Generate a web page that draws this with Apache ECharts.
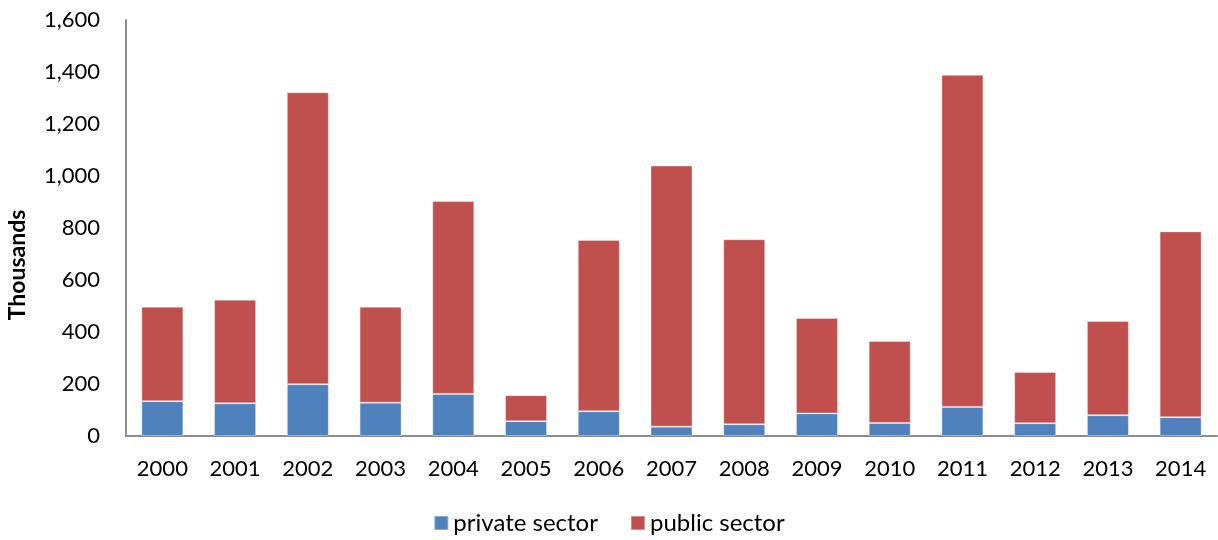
<!DOCTYPE html>
<html>
<head>
<meta charset="utf-8">
<script src="https://cdn.jsdelivr.net/npm/echarts@6/dist/echarts.min.js"></script>
<style>
  html, body { margin: 0; padding: 0; background: #fff; }
  #chart { width: 1218px; height: 540px; }
</style>
</head>
<body>
<div id="chart"></div>
<script>
var years = ['2000', '2001', '2002', '2003', '2004', '2005', '2006', '2007',
             '2008', '2009', '2010', '2011', '2012', '2013', '2014'];
var privateSector = [134, 126, 199, 128, 162, 57, 95, 36, 45, 87, 50, 112, 49, 80, 72];
var publicSector = [363, 398, 1123, 369, 742, 100, 659, 1004, 712, 367, 315, 1277, 197, 362, 715];

var font = 'Lato, "Open Sans", sans-serif';

var option = {
    animation: false,
    backgroundColor: '#fff',
    grid: {
        left: 126,
        right: 1,
        top: 20,
        bottom: 104
    },
    legend: {
        bottom: 0,
        left: 'center',
        itemWidth: 14,
        itemHeight: 14,
        itemGap: 32,
        icon: 'rect',
        textStyle: { fontFamily: font, fontSize: 24, color: '#000' },
        data: ['private sector', 'public sector']
    },
    graphic: [{
        type: 'text',
        x: 18,
        y: 265,
        rotation: Math.PI / 2,
        style: {
            text: 'Thousands',
            fontFamily: font,
            fontSize: 23,
            fontWeight: 'bold',
            fill: '#000',
            align: 'center',
            verticalAlign: 'middle'
        }
    }],
    xAxis: {
        type: 'category',
        data: years,
        axisLine: { lineStyle: { color: '#8c8c8c', width: 2 } },
        axisTick: { show: false },
        axisLabel: { fontFamily: font, fontSize: 22, color: '#000', margin: 22 }
    },
    yAxis: {
        type: 'value',
        min: 0,
        max: 1600,
        interval: 200,
        splitLine: { show: false },
        axisLine: { show: true, lineStyle: { color: '#8c8c8c', width: 2 } },
        axisTick: { show: false },
        axisLabel: {
            fontFamily: font,
            fontSize: 22,
            color: '#000',
            margin: 26,
            formatter: function (v) { return v.toLocaleString('en-US'); }
        }
    },
    series: [
        {
            name: 'private sector',
            type: 'bar',
            stack: 'total',
            barWidth: 42,
            itemStyle: { color: '#4F81BD', borderColor: 'rgba(255,255,255,0.35)', borderWidth: 1 },
            data: privateSector
        },
        {
            name: 'public sector',
            type: 'bar',
            stack: 'total',
            barWidth: 42,
            itemStyle: { color: '#C0504D', borderColor: 'rgba(255,255,255,0.35)', borderWidth: 1 },
            data: publicSector
        }
    ]
};

var myChart = echarts.init(document.getElementById('chart'));
myChart.setOption(option);
</script>
</body>
</html>
